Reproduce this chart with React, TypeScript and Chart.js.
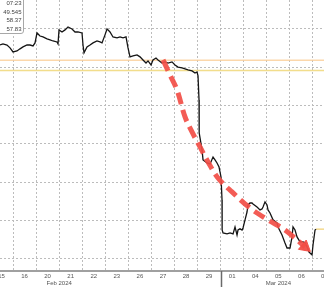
import React, { useEffect, useRef } from 'react';
import { Chart, registerables } from 'chart.js';

Chart.register(...registerables);

// ---- data ----
const dayLabels = ['15', '16', '20', '21', '22', '23', '26', '27', '28', '29', '01', '04', '05', '06', '07'];
const monthLabels = ['Feb 2024', 'Mar 2024'];
const monthLabelPos = [3, 12.5];
const monthBoundary = 10;
const tooltipLines = ['07:23', '49.545', '58.37', '57.83'];
const lastPrice = 49.545;
const levelHigh = 58.37;
const levelLow = 57.83;
const yGrid = [48, 50, 52, 54, 56, 58, 60];

// time in trading-day units (day boundaries at integers)
const tIdx = [
  0.436, 0.567, 0.74, 0.87, 1.0, 1.173, 1.303, 1.433, 1.607, 1.737,
  1.867, 1.954, 2.04, 2.17, 2.3, 2.474, 2.604, 2.734, 2.907, 2.951,
  2.994, 3.124, 3.254, 3.384, 3.557, 3.688, 3.817, 3.991, 4.034, 4.078,
  4.207, 4.338, 4.468, 4.641, 4.771, 4.858, 4.988, 5.075, 5.204, 5.334,
  5.508, 5.638, 5.768, 5.898, 5.985, 6.071, 6.201, 6.375, 6.505, 6.635,
  6.765, 6.852, 6.982, 7.068, 7.198, 7.285, 7.458, 7.589, 7.719, 7.892,
  8.022, 8.152, 8.325, 8.456, 8.586, 8.759, 8.889, 8.976, 9.019, 9.063,
  9.07, 9.193, 9.237, 9.41, 9.54, 9.67, 9.756, 9.843, 9.93, 10.016,
  10.06, 10.065, 10.103, 10.277, 10.407, 10.537, 10.623, 10.71, 10.753, 10.84,
  10.927, 10.97, 11.057, 11.143, 11.187, 11.273, 11.36, 11.403, 11.577, 11.707,
  11.793, 11.837, 11.923, 12.01, 12.053, 12.14, 12.27, 12.444, 12.487, 12.66,
  12.79, 12.877, 13.007, 13.094, 13.137, 13.224, 13.311, 13.44, 13.57, 13.657,
  13.744, 13.831, 13.96, 14.004, 14.091, 14.135,
];
const price = [
  59.16, 59.22, 59.16, 59.01, 58.8, 58.85, 58.96, 59.06, 59.16, 59.16,
  59.11, 59.27, 59.79, 59.63, 59.58, 59.48, 59.43, 59.37, 59.32, 59.22,
  59.95, 59.84, 59.95, 60.1, 60.0, 59.84, 59.84, 59.79, 59.16, 58.75,
  59.06, 59.16, 59.27, 59.37, 59.32, 59.27, 59.69, 60.0, 59.84, 59.58,
  59.53, 59.58, 59.53, 59.58, 59.01, 58.54, 58.59, 58.64, 58.54, 58.38,
  58.22, 58.33, 58.12, 58.38, 58.48, 58.38, 58.22, 58.28, 58.22, 58.28,
  58.12, 58.01, 57.96, 57.91, 57.86, 57.81, 57.7, 57.75, 57.55, 56.29,
  54.57, 53.68, 53.16, 53.0, 52.95, 53.31, 53.16, 53.0, 52.79, 52.27,
  51.07, 49.5, 49.35, 49.3, 49.35, 49.3, 49.66, 49.24, 49.5, 49.56,
  49.5, 49.61, 50.03, 50.44, 50.81, 50.91, 50.91, 50.86, 50.7, 50.55,
  50.6, 50.7, 50.97, 50.81, 50.55, 50.39, 50.03, 49.87, 49.66, 49.24,
  48.82, 48.56, 48.56, 49.14, 49.66, 49.5, 49.14, 48.88, 48.88, 48.82,
  48.61, 48.35, 48.2, 48.72, 49.5, 49.545,
];

// hand-drawn trend arrow
const trendT = [7.502, 7.805, 8.109, 8.456, 8.759, 9.106, 9.453, 9.886, 10.493, 11.273, 12.053, 12.79, 13.657];
const trendP = [58.381, 57.598, 56.814, 55.404, 54.621, 53.838, 53.055, 52.219, 51.488, 50.652, 50.026, 49.503, 48.616];

const X_MIN = 0.436;
const X_MAX = 14.48;
const Y_MIN = 47.36;
const Y_MAX = 61.51;

const FONT = '"Liberation Sans", Arial, sans-serif';

const monthSepPlugin = {
  id: 'monthSep',
  afterDraw(chart: any) {
    const xs = chart.scales.x;
    const px = Math.round(xs.getPixelForValue(monthBoundary)) + 0.5;
    const ctx = chart.ctx;
    ctx.save();
    ctx.strokeStyle = '#6a6a6a';
    ctx.lineWidth = 1.5;
    ctx.beginPath();
    ctx.moveTo(px, chart.chartArea.bottom);
    ctx.lineTo(px, chart.height);
    ctx.stroke();
    ctx.restore();
  },
};

const zeroPad = (s: any) => {
  s.paddingLeft = 0;
  s.paddingRight = 0;
};

export default function App() {
  const ref = useRef<HTMLCanvasElement>(null);

  useEffect(() => {
    if (!ref.current) return;
    const n = Math.min(tIdx.length, price.length);
    const mainData = [];
    for (let i = 0; i < n; i++) mainData.push({ x: tIdx[i], y: price[i] });
    const trendData = trendT.map((t, i) => ({ x: t, y: trendP[i] }));
    const lastT = tIdx[n - 1];

    const chart = new Chart(ref.current, {
      type: 'line',
      data: {
        datasets: [
          {
            data: trendData,
            borderColor: 'rgba(242, 78, 70, 0.92)',
            backgroundColor: 'rgba(242, 78, 70, 0.92)',
            borderWidth: 5,
            borderDash: [12, 6],
            borderCapStyle: 'butt',
            tension: 0.35,
            pointRadius: (c: any) => (c.dataIndex === trendData.length - 1 ? 7 : 0),
            pointStyle: 'triangle',
            pointRotation: 130,
            pointBackgroundColor: 'rgba(242, 78, 70, 0.95)',
            pointBorderColor: 'rgba(242, 78, 70, 0.95)',
            pointBorderWidth: 1,
          } as any,
          {
            data: mainData,
            borderColor: '#151515',
            borderWidth: 1.3,
            pointRadius: 0,
            tension: 0,
          },
          {
            data: [{ x: lastT, y: lastPrice }, { x: X_MAX, y: lastPrice }],
            borderColor: '#f3d98c',
            borderWidth: 1.5,
            pointRadius: 0,
          },
          {
            data: [{ x: X_MIN, y: levelHigh }, { x: X_MAX, y: levelHigh }],
            borderColor: 'rgba(250, 205, 150, 0.8)',
            borderWidth: 1.5,
            pointRadius: 0,
          },
          {
            data: [{ x: X_MIN, y: levelLow }, { x: X_MAX, y: levelLow }],
            borderColor: 'rgba(240, 215, 120, 0.85)',
            borderWidth: 1.5,
            pointRadius: 0,
          },
        ],
      },
      options: {
        animation: false,
        responsive: false,
        events: [],
        layout: { autoPadding: false, padding: { left: 0, right: 0, top: 0, bottom: 2 } },
        plugins: { legend: { display: false }, tooltip: { enabled: false } },
        scales: {
          x: {
            type: 'linear',
            position: 'bottom',
            weight: 0,
            min: X_MIN,
            max: X_MAX,
            afterBuildTicks: (s: any) => {
              const t = [];
              for (let i = 1; i < dayLabels.length; i++) t.push({ value: i });
              s.ticks = t;
            },
            afterFit: zeroPad,
            ticks: { display: false },
            grid: { color: '#bcbcbc', lineWidth: 1, drawTicks: false },
            border: { display: true, color: '#a0a0a0', width: 2, dash: [2, 2] },
          } as any,
          x2: {
            type: 'linear',
            position: 'bottom',
            weight: 1,
            min: X_MIN,
            max: X_MAX,
            afterBuildTicks: (s: any) => {
              s.ticks = dayLabels.map((_, i) => ({ value: i + 0.5 }));
            },
            afterFit: zeroPad,
            grid: { display: false, drawTicks: false },
            border: { display: false },
            ticks: {
              autoSkip: false,
              maxRotation: 0,
              padding: 1.4,
              color: '#555',
              font: { family: FONT, size: 6, lineHeight: 1.2 },
              callback: (v: any) => dayLabels[Math.floor(Number(v))] ?? '',
            },
          } as any,
          x3: {
            type: 'linear',
            position: 'bottom',
            weight: 2,
            min: X_MIN,
            max: X_MAX,
            afterBuildTicks: (s: any) => {
              s.ticks = monthLabelPos.map((v) => ({ value: v }));
            },
            afterFit: zeroPad,
            grid: { display: false, drawTicks: false },
            border: { display: false },
            ticks: {
              autoSkip: false,
              maxRotation: 0,
              padding: 0,
              color: '#555',
              font: { family: FONT, size: 6, lineHeight: 0.667 },
              callback: (_v: any, i: number) => monthLabels[i] ?? '',
            },
          } as any,
          y: {
            type: 'linear',
            position: 'left',
            min: Y_MIN,
            max: Y_MAX,
            afterBuildTicks: (s: any) => {
              s.ticks = yGrid.map((v) => ({ value: v }));
            },
            ticks: { display: false },
            grid: { color: '#bcbcbc', lineWidth: 1, drawTicks: false },
            border: { display: false, dash: [2, 2] },
          } as any,
        },
      },
      plugins: [monthSepPlugin],
    });
    return () => chart.destroy();
  }, []);

  return (
    <div style={{ position: 'fixed', left: 0, top: 0, width: 324, height: 287, overflow: 'hidden', background: '#fff' }}>
      <canvas ref={ref} width={324} height={287} style={{ display: 'block', width: 324, height: 287 }} />
      <div
        style={{
          position: 'absolute',
          left: -20,
          top: -6,
          width: 44,
          height: 40,
          boxSizing: 'border-box',
          border: '1px solid #a8a8a8',
          borderRadius: 3,
          background: '#fff',
          color: '#444',
          fontFamily: FONT,
          fontSize: 6,
          lineHeight: '8.5px',
          textAlign: 'right',
          paddingTop: 4.25,
          paddingRight: 1.5,
        }}
      >
        {tooltipLines.map((l) => (
          <div key={l}>{l}</div>
        ))}
      </div>
    </div>
  );
}
